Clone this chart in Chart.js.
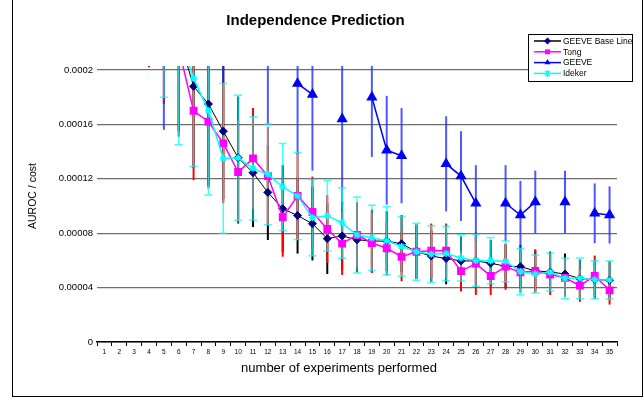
<!DOCTYPE html>
<html lang="en">
<head>
<meta charset="UTF-8">
<title>Independence Prediction</title>
<script src="https://cdn.jsdelivr.net/npm/chart.js"></script>
<style>
  body { margin: 0; background: #fff; }
  canvas { display: block; }
</style>
</head>
<body>
<canvas id="chart" width="644" height="400"></canvas>
<script>
  const experiments = ['1','2','3','4','5','6','7','8','9','10','11','12','13','14','15','16','17','18',
                       '19','20','21','22','23','24','25','26','27','28','29','30','31','32','33','34','35'];
  const yTicks = [0, 0.00004, 0.00008, 0.00012, 0.00016, 0.0002];

  // values for 1-6 sit above the top of the axis and get clipped, as in the original
  const baseLine = [0.00098, 0.00072, 0.00052, 0.00038, 0.00029, 0.000225, 0.000188, 0.000175, 0.000155,
    0.0001355, 0.0001245, 0.00011, 0.000098, 0.000093, 0.000087, 0.000076, 0.000078, 0.0000752, 0.0000742,
    0.0000742, 0.0000722, 0.0000664, 0.0000632, 0.0000614, 0.0000596, 0.0000596, 0.0000579, 0.0000557,
    0.0000554, 0.0000523, 0.0000515, 0.00005, 0.0000466, 0.0000459, 0.0000454];
  const baseLineErr = [0.0003, 0.00022, 0.00016, 0.00012, 0.00009, 0.00007, 0.00006, 0.00006, 0.00005,
    0.000045, 0.00004, 0.000035, 0.000032, 0.000028, 0.000027, 0.000026, 0.000025, 0.000024, 0.000023,
    0.000022, 0.000021, 0.00002, 0.000019, 0.000019, 0.000018, 0.000018, 0.000017, 0.000016, 0.000016,
    0.000015, 0.000015, 0.000015, 0.000014, 0.000014, 0.000014];

  const tong = [0.00095, 0.0007, 0.0005, 0.00029, 0.00025, 0.000216, 0.00017, 0.000162, 0.000146,
    0.000125, 0.000135, 0.000122, 0.0000917, 0.0001074, 0.0000956, 0.0000831, 0.0000723, 0.0000787,
    0.0000728, 0.0000689, 0.0000627, 0.0000664, 0.0000671, 0.0000671, 0.0000521, 0.0000576, 0.0000485,
    0.0000554, 0.0000512, 0.0000522, 0.0000496, 0.0000472, 0.0000415, 0.0000485, 0.000038];
  const tongErr = [0.0003, 0.0002, 0.00015, 0.000088, 0.000075, 0.000065, 0.000051, 0.000049, 0.000044,
    0.000038, 0.000037, 0.000036, 0.000029, 0.000032, 0.000026, 0.000025, 0.000023, 0.000024, 0.000022,
    0.00002, 0.000018, 0.00002, 0.00002, 0.00002, 0.000015, 0.000023, 0.000014, 0.000017, 0.000015,
    0.000016, 0.000015, 0.000014, 0.000012, 0.000015, 0.0000105];

  const geeve = [null, null, null, null, 0.00025, null, null, null, 0.00026, null, null, 0.00024, null,
    0.00019, 0.000182, null, 0.000164, null, 0.00018, 0.000141, 0.000137, null, null, 0.000131, 0.000122,
    0.000102, null, 0.000102, 0.0000934, 0.000103, null, 0.000103, null, 0.0000946, 0.0000934];
  const geeveErr = [0, 0, 0, 0, 0.000094, 0, 0, 0, 0.00007, 0, 0, 0.00008, 0, 0.000052, 0.000056, 0,
    0.000066, 0, 0.000044, 0.00004, 0.000035, 0, 0, 0.000035, 0.000033, 0.000028, 0, 0.000028, 0.000025,
    0.000023, 0, 0.000023, 0, 0.000022, 0.000021];

  const ideker = [0.0011, 0.00085, 0.0006, 0.00042, 0.00027, 0.000227, 0.000194, 0.00017, 0.000135,
    0.0001355, 0.0001277, 0.0001233, 0.000114, 0.0001074, 0.0000914, 0.0000929, 0.0000875, 0.0000787,
    0.0000765, 0.0000745, 0.0000703, 0.0000664, 0.0000645, 0.000065, 0.0000618, 0.00006, 0.0000598,
    0.0000593, 0.0000518, 0.00005, 0.0000515, 0.0000468, 0.0000468, 0.0000458, 0.0000456];
  const idekerErr = [0.0003, 0.00025, 0.0002, 0.00015, 0.00009, 0.000082, 0.000065, 0.000062, 0.000055,
    0.000046, 0.000038, 0.000037, 0.000032, 0.000032, 0.000028, 0.000026, 0.000026, 0.000028, 0.000024,
    0.000025, 0.000022, 0.000021, 0.000021, 0.00002, 0.000017, 0.000019, 0.000017, 0.000015, 0.000017,
    0.000014, 0.000014, 0.000015, 0.000015, 0.000014, 0.000014];

  const FONT = "'Liberation Sans', Arial, sans-serif";

  // vertical error bars, drawn behind the lines
  const errorBars = {
    id: 'errorBars',
    beforeDatasetsDraw(chart) {
      const { ctx, chartArea: a, scales: { x, y } } = chart;
      ctx.save();
      ctx.beginPath();
      ctx.rect(a.left, a.top - 4, a.right - a.left, a.bottom - a.top + 4);
      ctx.clip();
      chart.data.datasets.forEach(ds => {
        ctx.strokeStyle = ds.errColor;
        ctx.lineWidth = ds.errWidth;
        ds.data.forEach((v, i) => {
          if (v == null || !ds.errors[i]) return;
          const px = x.getPixelForValue(i);
          const top = y.getPixelForValue(v + ds.errors[i]);
          const bot = y.getPixelForValue(v - ds.errors[i]);
          ctx.beginPath();
          ctx.moveTo(px, top);
          ctx.lineTo(px, bot);
          if (ds.errCap) {
            ctx.moveTo(px - 4, top); ctx.lineTo(px + 4, top);
            ctx.moveTo(px - 4, bot); ctx.lineTo(px + 4, bot);
          }
          ctx.stroke();
        });
      });
      ctx.restore();
    }
  };

  function marker(ctx, style, x, y, r) {
    ctx.beginPath();
    if (style === 'rectRot') {
      ctx.moveTo(x, y - r); ctx.lineTo(x + r, y); ctx.lineTo(x, y + r); ctx.lineTo(x - r, y); ctx.closePath(); ctx.fill();
    } else if (style === 'rect') {
      ctx.rect(x - r * 0.7, y - r * 0.7, r * 1.4, r * 1.4); ctx.fill();
    } else if (style === 'triangle') {
      ctx.moveTo(x, y - r); ctx.lineTo(x + r * 0.87, y + r * 0.5); ctx.lineTo(x - r * 0.87, y + r * 0.5); ctx.closePath(); ctx.fill();
    } else {
      ctx.moveTo(x - r * 0.7, y - r * 0.7); ctx.lineTo(x + r * 0.7, y + r * 0.7);
      ctx.moveTo(x + r * 0.7, y - r * 0.7); ctx.lineTo(x - r * 0.7, y + r * 0.7);
      ctx.moveTo(x, y - r); ctx.lineTo(x, y + r);
      ctx.stroke();
    }
  }

  // frame, axis titles and the boxed legend in the upper right
  const decorations = {
    id: 'decorations',
    beforeDraw(chart) {
      const ctx = chart.ctx;
      ctx.save();
      ctx.fillStyle = '#fff';
      ctx.fillRect(0, 0, chart.width, chart.height);
      ctx.strokeStyle = '#000';
      ctx.lineWidth = 1;
      ctx.strokeRect(12.5, -0.5, 630, 397);
      ctx.restore();
    },
    afterDraw(chart) {
      const ctx = chart.ctx;
      ctx.save();
      ctx.fillStyle = '#000';
      ctx.textAlign = 'center';
      ctx.textBaseline = 'middle';
      ctx.font = '13px ' + FONT;
      ctx.fillText('number of experiments performed', 339, 368);
      ctx.translate(33, 196);
      ctx.rotate(-Math.PI / 2);
      ctx.font = '10.5px ' + FONT;
      ctx.fillText('AUROC / cost', 0, 0);
      ctx.restore();

      ctx.save();
      ctx.fillStyle = '#fff';
      ctx.fillRect(528.5, 34.5, 104, 47);
      ctx.strokeStyle = '#000';
      ctx.lineWidth = 1;
      ctx.strokeRect(528.5, 34.5, 104, 47);
      ctx.font = '8.5px ' + FONT;
      ctx.textAlign = 'left';
      ctx.textBaseline = 'middle';
      chart.data.datasets.forEach((ds, i) => {
        const ly = 41 + i * 10.8;
        ctx.strokeStyle = ds.borderColor;
        ctx.lineWidth = 1.5;
        ctx.beginPath();
        ctx.moveTo(534, ly); ctx.lineTo(561, ly);
        ctx.stroke();
        ctx.fillStyle = ds.pointBackgroundColor;
        ctx.strokeStyle = ds.pointBorderColor;
        marker(ctx, ds.pointStyle, 547.5, ly, 3.5);
        ctx.fillStyle = '#000';
        ctx.fillText(ds.label, 563, ly + 0.5);
      });
      ctx.restore();
    }
  };

  const clipArea = { left: 2, top: 4, right: 2, bottom: 2 };

  new Chart(document.getElementById('chart'), {
    type: 'line',
    data: {
      labels: experiments,
      datasets: [
        { label: 'GEEVE Base Line', data: baseLine, errors: baseLineErr, errColor: '#000', errWidth: 2,
          borderColor: '#000', borderWidth: 1, pointStyle: 'rectRot', pointRadius: 4,
          pointBackgroundColor: '#000080', pointBorderColor: '#000080', order: 4, clip: clipArea },
        { label: 'Tong', data: tong, errors: tongErr, errColor: '#ff0000', errWidth: 2,
          borderColor: '#ff00ff', borderWidth: 1.5, pointStyle: 'rect', pointRadius: 4.5,
          pointBackgroundColor: '#ff00ff', pointBorderColor: '#ff00ff', order: 3, clip: clipArea },
        { label: 'GEEVE', data: geeve, errors: geeveErr, errColor: 'rgba(30,50,255,0.8)', errWidth: 2,
          borderColor: '#0000ff', borderWidth: 1.5, pointStyle: 'triangle', pointRadius: 5,
          pointBackgroundColor: '#0000ff', pointBorderColor: '#0000ff', spanGaps: false, order: 2, clip: clipArea },
        { label: 'Ideker', data: ideker, errors: idekerErr, errColor: 'rgba(0,255,255,0.75)', errWidth: 1.5, errCap: true,
          borderColor: '#00ffff', borderWidth: 1.5, pointStyle: 'star', pointRadius: 3.5, pointBorderWidth: 1.5,
          pointBackgroundColor: '#00ffff', pointBorderColor: '#00ffff', order: 1, clip: clipArea }
      ]
    },
    options: {
      responsive: false,
      animation: false,
      devicePixelRatio: 1,
      layout: { padding: { left: 14, right: 27, top: 0, bottom: 0 } },
      elements: { line: { tension: 0 }, point: { hoverRadius: 4 } },
      plugins: {
        legend: { display: false },
        tooltip: { enabled: false },
        title: {
          display: true,
          text: 'Independence Prediction',
          color: '#000',
          font: { family: FONT, size: 15, weight: 'bold' },
          padding: { top: 12, bottom: 40 }
        }
      },
      scales: {
        x: {
          offset: true,
          afterFit: s => { s.height = 58; },
          grid: { display: true, offset: true, drawOnChartArea: false, drawTicks: true, tickLength: 4, color: '#000' },
          border: { display: true, color: '#000', width: 1.5 },
          ticks: { color: '#000', font: { family: FONT, size: 6.5 }, padding: 2, maxRotation: 0, autoSkip: false }
        },
        y: {
          min: 0,
          max: 0.0002,
          afterFit: s => { s.width = 83; },
          afterBuildTicks: s => { s.ticks = yTicks.map(v => ({ value: v })); },
          grid: { color: '#6e6e6e', lineWidth: 1.3, drawTicks: false },
          border: { display: false },
          ticks: {
            color: '#000',
            padding: 4,
            font: { family: FONT, size: 9.5 },
            callback: v => String(parseFloat(v.toFixed(6)))
          }
        }
      }
    },
    plugins: [errorBars, decorations]
  });
</script>
</body>
</html>
